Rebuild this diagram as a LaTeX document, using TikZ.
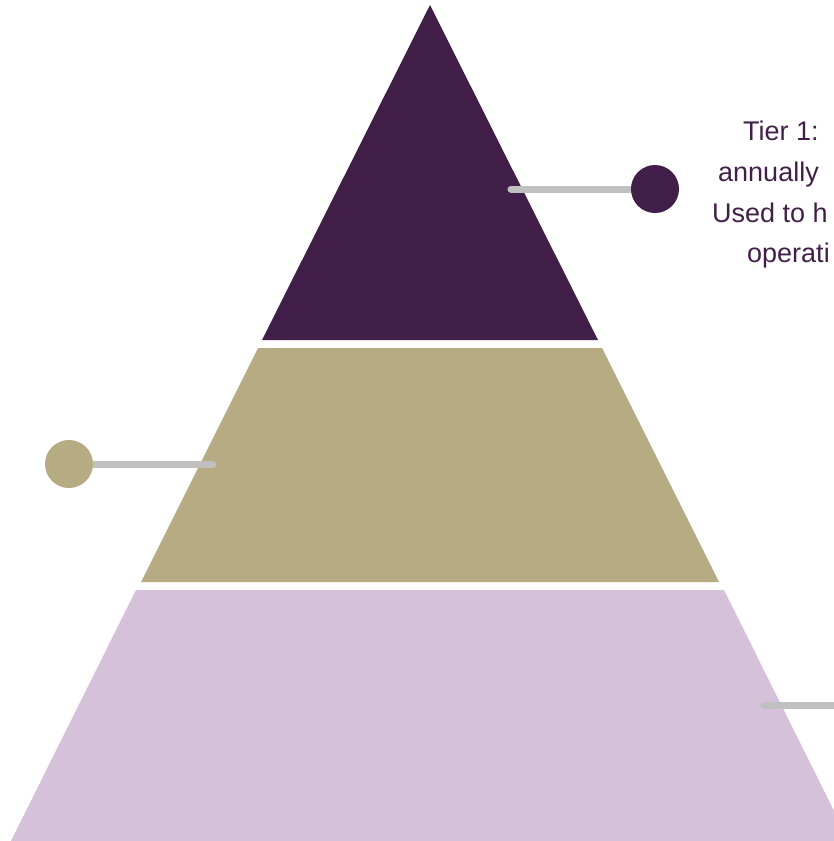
\documentclass[tikz,border=0pt]{standalone}
\usepackage{fontspec}
\setmainfont{Liberation Sans}
\usetikzlibrary{backgrounds}
\definecolor{tierone}{HTML}{421F48}
\definecolor{tiertwo}{HTML}{B6AB82}
\definecolor{tierthree}{HTML}{D5C1D9}
\definecolor{linkgray}{HTML}{C0C0C0}
\tikzset{
  dot/.style={circle, minimum size=48pt, inner sep=0pt},
  link/.style={draw=linkgray, line width=7pt, line cap=round},
  tiertext/.style={anchor=base west, inner sep=0pt, text=tierone,
    font=\fontsize{27}{32}\selectfont}
}
\begin{document}
\begin{tikzpicture}[x=1pt,y=-1pt]
\useasboundingbox (0,0) rectangle (833,841);
\clip (0,0) rectangle (833,841);
% dots
\node[dot, fill=tierone] (t1dot) at (655,189) {};
\node[dot, fill=tiertwo] (t2dot) at (69,464) {};
\coordinate (t1end) at (511,189);
\coordinate (t2end) at (213,464);
\coordinate (t3end) at (764,705);
\coordinate (t3out) at (850,705);
\begin{scope}[on background layer]
% pyramid tiers
\fill[tierone] (430,5) -- (598,340) -- (262,340) -- cycle;
\fill[tiertwo] (258,348) -- (602,348) -- (719,582) -- (141,582) -- cycle;
\fill[tierthree] (136,590) -- (724,590) -- (850,843) -- (10,843) -- cycle;
% connectors
\draw[link] (t1end) -- (t1dot.center);
\draw[link] (t2end) -- (t2dot.center);
\draw[link] (t3end) -- (t3out);
\end{scope}
% tier 1 text
\node[tiertext] (t1a) at (743,140) {Tier 1:};
\node[tiertext] (t1b) at (718,181) {annually};
\node[tiertext] (t1c) at (712,222) {Used to h};
\node[tiertext] (t1d) at (747,262) {operati};
\end{tikzpicture}
\end{document}
